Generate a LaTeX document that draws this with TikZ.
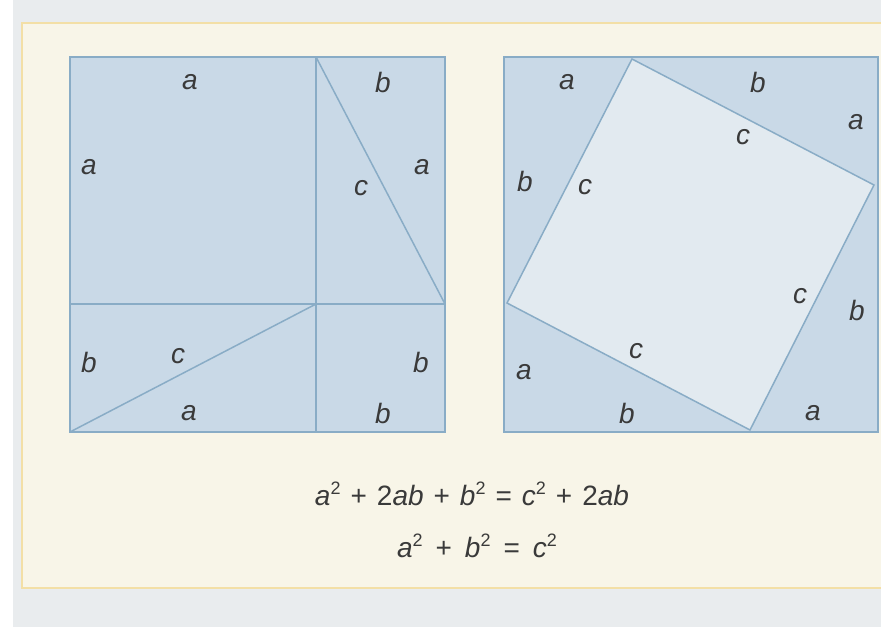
\documentclass[tikz,border=0pt]{standalone}
\usepackage{fontspec}
\setmainfont{Liberation Sans}
\definecolor{pagebg}{HTML}{E9ECEE}
\definecolor{boxbg}{HTML}{F8F5E8}
\definecolor{boxrule}{HTML}{F3DFA6}
\definecolor{sqfill}{HTML}{C9D9E7}
\definecolor{innerfill}{HTML}{E2EAF0}
\definecolor{sqline}{HTML}{89ACC6}
\definecolor{txt}{HTML}{3A3A3A}
\tikzset{
  sqedge/.style={draw=sqline, line width=1.5pt},
  lab/.style={font=\fontsize{28}{28}\selectfont\itshape, text=txt, inner sep=0pt},
  eqn/.style={font=\fontsize{28}{28}\selectfont, text=txt, inner sep=0pt, anchor=base}
}
\newcommand{\vv}[1]{\textit{#1}}
\newcommand{\sq}{\raisebox{11pt}{\fontsize{18}{18}\selectfont 2}}
\newcommand{\gA}{\hspace{10pt}}
\newcommand{\gB}{\hspace{13pt}}
\begin{document}
\begin{tikzpicture}[x=1pt,y=-1pt]
\useasboundingbox (0,0) rectangle (881,627);
\fill[white] (0,0) rectangle (881,627);
\fill[pagebg] (13,0) rectangle (881,627);
\fill[boxbg] (22,23) rectangle (881,588);
\draw[boxrule, line width=1.6pt] (881,23) -- (22,23) -- (22,588) -- (881,588);
% left square
\coordinate (L1) at (70,57);
\coordinate (L2) at (445,57);
\coordinate (L3) at (445,432);
\coordinate (L4) at (70,432);
\coordinate (Vt) at (316,57);
\coordinate (Vb) at (316,432);
\coordinate (Hl) at (70,304);
\coordinate (Hr) at (445,304);
\coordinate (C) at (316,304);
\fill[sqfill] (L1) rectangle (L3);
\draw[sqedge] (L1) -- (L2) -- (L3) -- (L4) -- cycle;
\draw[sqedge] (Vt) -- (Vb);
\draw[sqedge] (Hl) -- (Hr);
\draw[sqedge] (Vt) -- (Hr);
\draw[sqedge] (L4) -- (C);
\node[lab] (la1) at (190,82) {a};
\node[lab] (la2) at (89,167) {a};
\node[lab] (lb1) at (383,82) {b};
\node[lab] (la3) at (422,167) {a};
\node[lab] (lc1) at (361,188) {c};
\node[lab] (lb2) at (89,362) {b};
\node[lab] (lc2) at (178,356) {c};
\node[lab] (la4) at (189,413) {a};
\node[lab] (lb3) at (421,362) {b};
\node[lab] (lb4) at (383,413) {b};
% right square
\coordinate (R1) at (504,57);
\coordinate (R2) at (878,57);
\coordinate (R3) at (878,432);
\coordinate (R4) at (504,432);
\coordinate (Qt) at (632,59);
\coordinate (Qr) at (874,185);
\coordinate (Qb) at (750,430);
\coordinate (Ql) at (507,303);
\fill[sqfill] (R1) rectangle (R3);
\fill[innerfill] (Qt) -- (Qr) -- (Qb) -- (Ql) -- cycle;
\draw[sqedge] (R1) -- (R2) -- (R3) -- (R4) -- cycle;
\draw[sqedge] (Qt) -- (Qr) -- (Qb) -- (Ql) -- cycle;
\node[lab] (ra1) at (567,82) {a};
\node[lab] (rb1) at (758,82) {b};
\node[lab] (ra2) at (856,122) {a};
\node[lab] (rc1) at (743,137) {c};
\node[lab] (rb2) at (525,181) {b};
\node[lab] (rc2) at (585,187) {c};
\node[lab] (rc3) at (800,296) {c};
\node[lab] (rb3) at (857,310) {b};
\node[lab] (rc4) at (636,351) {c};
\node[lab] (ra3) at (524,372) {a};
\node[lab] (rb4) at (627,413) {b};
\node[lab] (ra4) at (813,413) {a};
% equations
\node[eqn] (eq1) at (472,505) {\vv{a}\sq\gA+\gA2\vv{ab}\gA+\gA\vv{b}\sq\gA=\gA\vv{c}\sq\gA+\gA2\vv{ab}};
\node[eqn] (eq2) at (477,557) {\vv{a}\sq\gB+\gB\vv{b}\sq\gB=\gB\vv{c}\sq};
\end{tikzpicture}
\end{document}
